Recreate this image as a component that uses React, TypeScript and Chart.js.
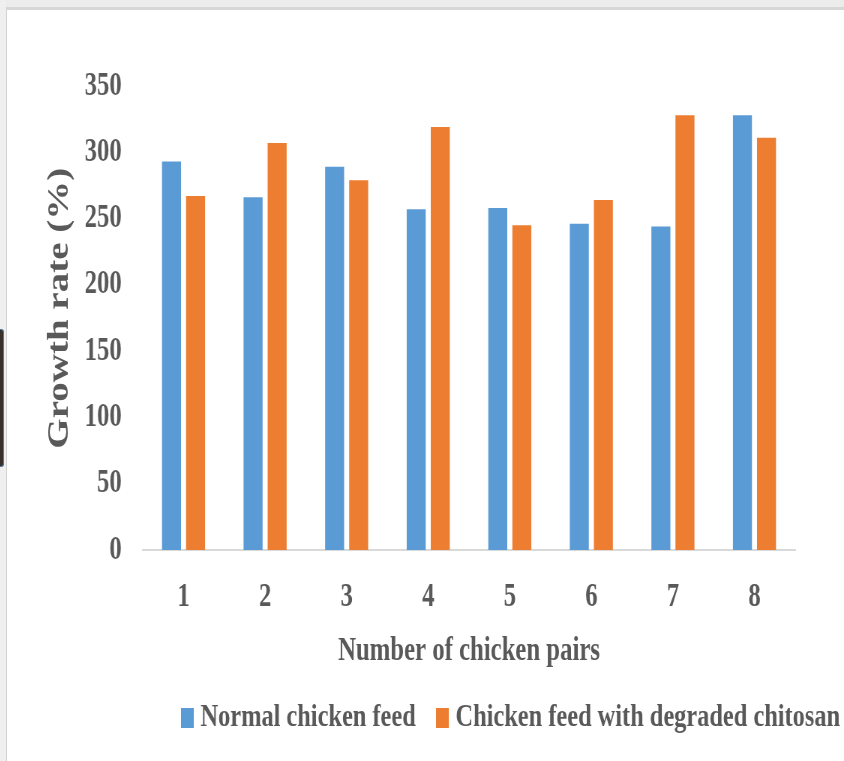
import { useEffect, useRef } from "react";
import { Chart, registerables } from "chart.js";

Chart.register(...registerables);

// Chicken pair numbers along the x axis
const pairLabels = ["1", "2", "3", "4", "5", "6", "7", "8"];

// Growth rate (%) for each pair
const normalFeed = [293, 266, 289, 257, 258, 246, 244, 328];
const chitosanFeed = [267, 307, 279, 319, 245, 264, 328, 311];

const seriesNames = ["Normal chicken feed", "Chicken feed with degraded chitosan"];
const seriesColors = ["#5B9BD5", "#ED7D31"];

// Value axis range
const yMin = 0;
const yMax = 350;
const yStep = 50;

const FONT = '"Liberation Serif", "Times New Roman", serif';
const TEXT = "#595959";

// The whole chart is laid out wide and then squeezed horizontally.
const SQUEEZE = 0.75;
const CANVAS_W = 1116;
const CANVAS_H = 751;

// Legend row drawn under the axis title
const legendRow = {
  id: "legendRow",
  afterDraw(chart: Chart) {
    const ctx = chart.ctx;
    ctx.save();
    ctx.font = `bold 32.5px ${FONT}`;
    ctx.textBaseline = "middle";
    ctx.textAlign = "left";
    const y = 708;
    let x = 232;
    chart.data.datasets.forEach((ds) => {
      ctx.fillStyle = ds.backgroundColor as string;
      ctx.fillRect(x, y - 10, 17, 20);
      x += 17 + 9;
      ctx.fillStyle = TEXT;
      ctx.fillText(ds.label as string, x, y);
      x += ctx.measureText(ds.label as string).width + 27;
    });
    ctx.restore();
  },
};

export default function App() {
  const canvasRef = useRef<HTMLCanvasElement | null>(null);

  useEffect(() => {
    const canvas = canvasRef.current;
    if (!canvas) return;
    const tickFont = { family: FONT, size: 33, weight: "bold" as const };
    const chart = new Chart(canvas, {
      type: "bar",
      data: {
        labels: pairLabels,
        datasets: [
          {
            label: seriesNames[0],
            data: normalFeed,
            backgroundColor: seriesColors[0],
            categoryPercentage: 0.59,
            barPercentage: 0.79,
          },
          {
            label: seriesNames[1],
            data: chitosanFeed,
            backgroundColor: seriesColors[1],
            categoryPercentage: 0.59,
            barPercentage: 0.79,
          },
        ],
      },
      options: {
        responsive: false,
        animation: false,
        devicePixelRatio: 1,
        layout: { padding: { left: 0, right: 65, top: 76, bottom: 90 } },
        plugins: {
          legend: { display: false },
          tooltip: { enabled: false },
        },
        scales: {
          x: {
            grid: { display: false, drawTicks: false },
            border: { display: true, color: "#D9D9D9", width: 2 },
            ticks: { color: TEXT, font: tickFont, padding: 28 },
            title: {
              display: true,
              text: "Number of chicken pairs",
              color: TEXT,
              font: tickFont,
              padding: 0,
            },
            afterFit(axis: any) {
              axis.height = 121;
            },
          },
          y: {
            min: yMin,
            max: yMax,
            grid: { display: false, drawTicks: false },
            border: { display: false },
            ticks: { stepSize: yStep, color: TEXT, font: tickFont, padding: 28 },
            title: {
              display: true,
              // leading spaces lift the rotated title a little along the axis
              text: "  Growth rate (%)",
              color: TEXT,
              font: { family: FONT, size: 39, weight: "bold" as const },
              padding: { top: 48, bottom: 0 },
            },
            afterFit(axis: any) {
              axis.width = 181;
            },
          },
        },
      },
      plugins: [legendRow],
    });
    return () => chart.destroy();
  }, []);

  return (
    <div style={{ position: "fixed", left: 0, top: 0, width: 844, height: 761, background: "#ffffff", overflow: "hidden" }}>
      <div style={{ position: "absolute", left: 0, top: 0, width: 844, height: 7, background: "#ececec" }} />
      <div style={{ position: "absolute", left: 6, top: 7, width: 838, height: 3, background: "#d7d7d7" }} />
      <div style={{ position: "absolute", left: 0, top: 0, width: 6, height: 761, background: "#efefef" }} />
      <div style={{ position: "absolute", left: 6, top: 7, width: 1, height: 754, background: "#d2d2d2" }} />
      <div
        style={{
          position: "absolute",
          left: 0,
          top: 329,
          width: 3,
          height: 136,
          background: "#3a302b",
          border: "1px solid #52739c",
          borderLeft: "none",
          borderRadius: "0 3px 3px 0",
        }}
      />
      <div
        style={{
          position: "absolute",
          left: 7,
          top: 10,
          width: CANVAS_W,
          height: CANVAS_H,
          transform: `scaleX(${SQUEEZE})`,
          transformOrigin: "0 0",
        }}
      >
        <canvas ref={canvasRef} width={CANVAS_W} height={CANVAS_H} style={{ display: "block" }} />
      </div>
    </div>
  );
}
